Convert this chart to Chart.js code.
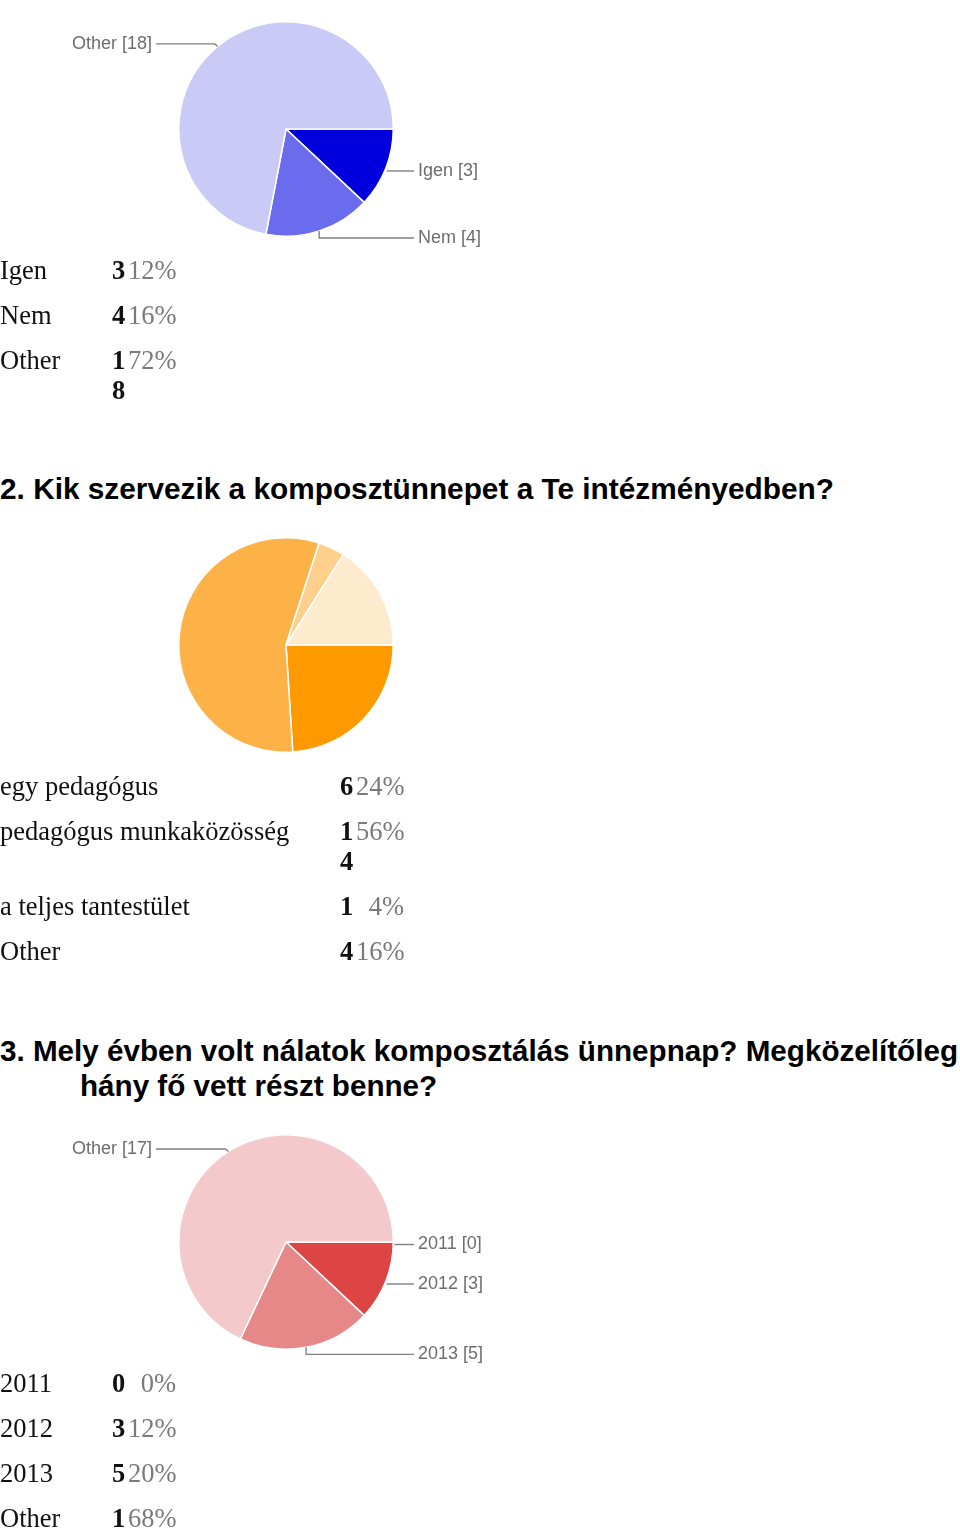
<!DOCTYPE html>
<html>
<head>
<meta charset="utf-8">
<script src="https://cdn.jsdelivr.net/npm/chart.js@4.4.1/dist/chart.umd.min.js"></script>
<style>
  html, body { margin: 0; padding: 0; background: #fff; }
  body { width: 960px; height: 1531px; position: relative; overflow: hidden; }
  .pie { position: absolute; left: 0; width: 960px; height: 258px; }
  .tbl {
    position: absolute; left: 0;
    display: grid; row-gap: 15px;
    font-family: "Liberation Serif", "DejaVu Serif", serif;
    font-size: 26.5px; line-height: 30px; color: #111;
  }
  .tbl .num { font-weight: bold; word-break: break-all; width: 16px; }
  .tbl .pct { color: #7a7a7a; text-align: right; }
  h2 {
    position: absolute; left: 0; margin: 0; white-space: nowrap;
    font-family: "Liberation Sans", Arial, sans-serif;
    font-weight: bold; font-size: 29.8px; line-height: 35px; color: #000;
  }
  h2 span { display: block; }
  #h3 { transform-origin: 0 0; }
</style>
</head>
<body>

<div class="pie" style="top:0px"><canvas id="pie1"></canvas></div>
<div class="tbl" id="tbl1" style="top:255px; grid-template-columns:112px 16px 48px"></div>

<h2 style="top:471px">2. Kik szervezik a komposztünnepet a Te intézményedben?</h2>

<div class="pie" style="top:516px"><canvas id="pie2"></canvas></div>
<div class="tbl" id="tbl2" style="top:771px; grid-template-columns:340px 16px 48px"></div>

<h2 id="h3" style="top:1033px"><span id="h3a">3. Mely évben volt nálatok komposztálás ünnepnap? Megközelítőleg</span><span id="h3b">hány fő vett részt benne?</span></h2>

<div class="pie" style="top:1113px"><canvas id="pie3"></canvas></div>
<div class="tbl" id="tbl3" style="top:1368px; grid-template-columns:112px 16px 48px"></div>

<script>
// --- question 1 ---
const q1Labels = ['Igen', 'Nem', 'Other'];
const q1Counts = [3, 4, 18];
const q1Percents = ['12%', '16%', '72%'];
const q1Colors = ['#0000dd', '#6b6bee', '#cacaf6'];

// --- question 2 ---
const q2Labels = ['egy pedagógus', 'pedagógus munkaközösség', 'a teljes tantestület', 'Other'];
const q2Counts = [6, 14, 1, 4];
const q2Percents = ['24%', '56%', '4%', '16%'];
const q2Colors = ['#ff9900', '#fdb247', '#fed08c', '#feebcd'];

// --- question 3 ---
const q3Labels = ['2011', '2012', '2013', 'Other'];
const q3Counts = [0, 3, 5, 17];
const q3Percents = ['0%', '12%', '20%', '68%'];
const q3Colors = ['#c83030', '#dd4444', '#e68888', '#f3c9cb'];

// labels with leader lines, like the old google forms summary
const sideLabels = {
    id: 'sideLabels',
    afterDatasetsDraw(chart, args, opts) {
        if (!opts.show) return;
        const ctx = chart.ctx;
        const meta = chart.getDatasetMeta(0);
        const names = chart.data.labels;
        const vals = chart.data.datasets[0].data;
        ctx.save();
        ctx.font = '18px "Liberation Sans", Arial, sans-serif';
        ctx.strokeStyle = '#808080';
        ctx.fillStyle = '#6e6e6e';
        ctx.lineWidth = 1.4;
        ctx.textBaseline = 'middle';
        meta.data.forEach((arc, i) => {
            const p = arc.getProps(['x', 'y', 'startAngle', 'endAngle', 'outerRadius'], true);
            const mid = (p.startAngle + p.endAngle) / 2;
            const ex = p.x + Math.cos(mid) * p.outerRadius;
            const ey = p.y + Math.sin(mid) * p.outerRadius;
            const text = names[i] + ' [' + vals[i] + ']';
            ctx.beginPath();
            if (Math.cos(mid) >= 0) {
                const steep = Math.sin(mid) > 0.8;
                const ly = ey + (steep ? 7 : 2.5);
                if (steep) {
                    ctx.moveTo(ex, ey);
                    ctx.lineTo(ex, ly);
                } else {
                    ctx.moveTo(ex + 1, ly);
                }
                ctx.lineTo(p.x + 128, ly);
                ctx.stroke();
                ctx.textAlign = 'left';
                ctx.fillText(text, p.x + 132, ly);
            } else {
                const ly = ey - 2.5;
                ctx.moveTo(ex, ey);
                ctx.lineTo(ex - 3, ly);
                ctx.lineTo(p.x - 130, ly);
                ctx.stroke();
                ctx.textAlign = 'right';
                ctx.fillText(text, p.x - 134, ly);
            }
        });
        ctx.restore();
    }
};

function makePie(id, labels, counts, colors, showLabels) {
    const ctx = document.getElementById(id).getContext('2d');
    return new Chart(ctx, {
        type: 'pie',
        data: {
            labels: labels,
            datasets: [{
                data: counts,
                backgroundColor: colors,
                borderColor: '#ffffff',
                borderWidth: 1.5
            }]
        },
        options: {
            responsive: true,
            maintainAspectRatio: false,
            animation: false,
            events: [],
            rotation: 90,
            layout: { padding: { left: 178, right: 566, top: 21, bottom: 21 } },
            plugins: {
                legend: { display: false },
                tooltip: { enabled: false },
                sideLabels: { show: showLabels }
            }
        },
        plugins: [sideLabels]
    });
}

function fillTable(id, labels, counts, percents) {
    const tbl = document.getElementById(id);
    labels.forEach((name, i) => {
        const a = document.createElement('div');
        a.textContent = name;
        const b = document.createElement('div');
        b.className = 'num';
        b.textContent = counts[i];
        const c = document.createElement('div');
        c.className = 'pct';
        c.textContent = percents[i];
        tbl.append(a, b, c);
    });
}

makePie('pie1', q1Labels, q1Counts, q1Colors, true);
makePie('pie2', q2Labels, q2Counts, q2Colors, false);
makePie('pie3', q3Labels, q3Counts, q3Colors, true);

fillTable('tbl1', q1Labels, q1Counts, q1Percents);
fillTable('tbl2', q2Labels, q2Counts, q2Percents);
fillTable('tbl3', q3Labels, q3Counts, q3Percents);

// heading 3: first line fills the page width, second line hangs 80px in
const h3 = document.getElementById('h3');
const w = document.getElementById('h3a').getBoundingClientRect().width;
const s = Math.min(1, 958 / w);
h3.style.transform = 'scaleX(' + s + ')';
document.getElementById('h3b').style.paddingLeft = (80 / s) + 'px';
</script>
</body>
</html>
